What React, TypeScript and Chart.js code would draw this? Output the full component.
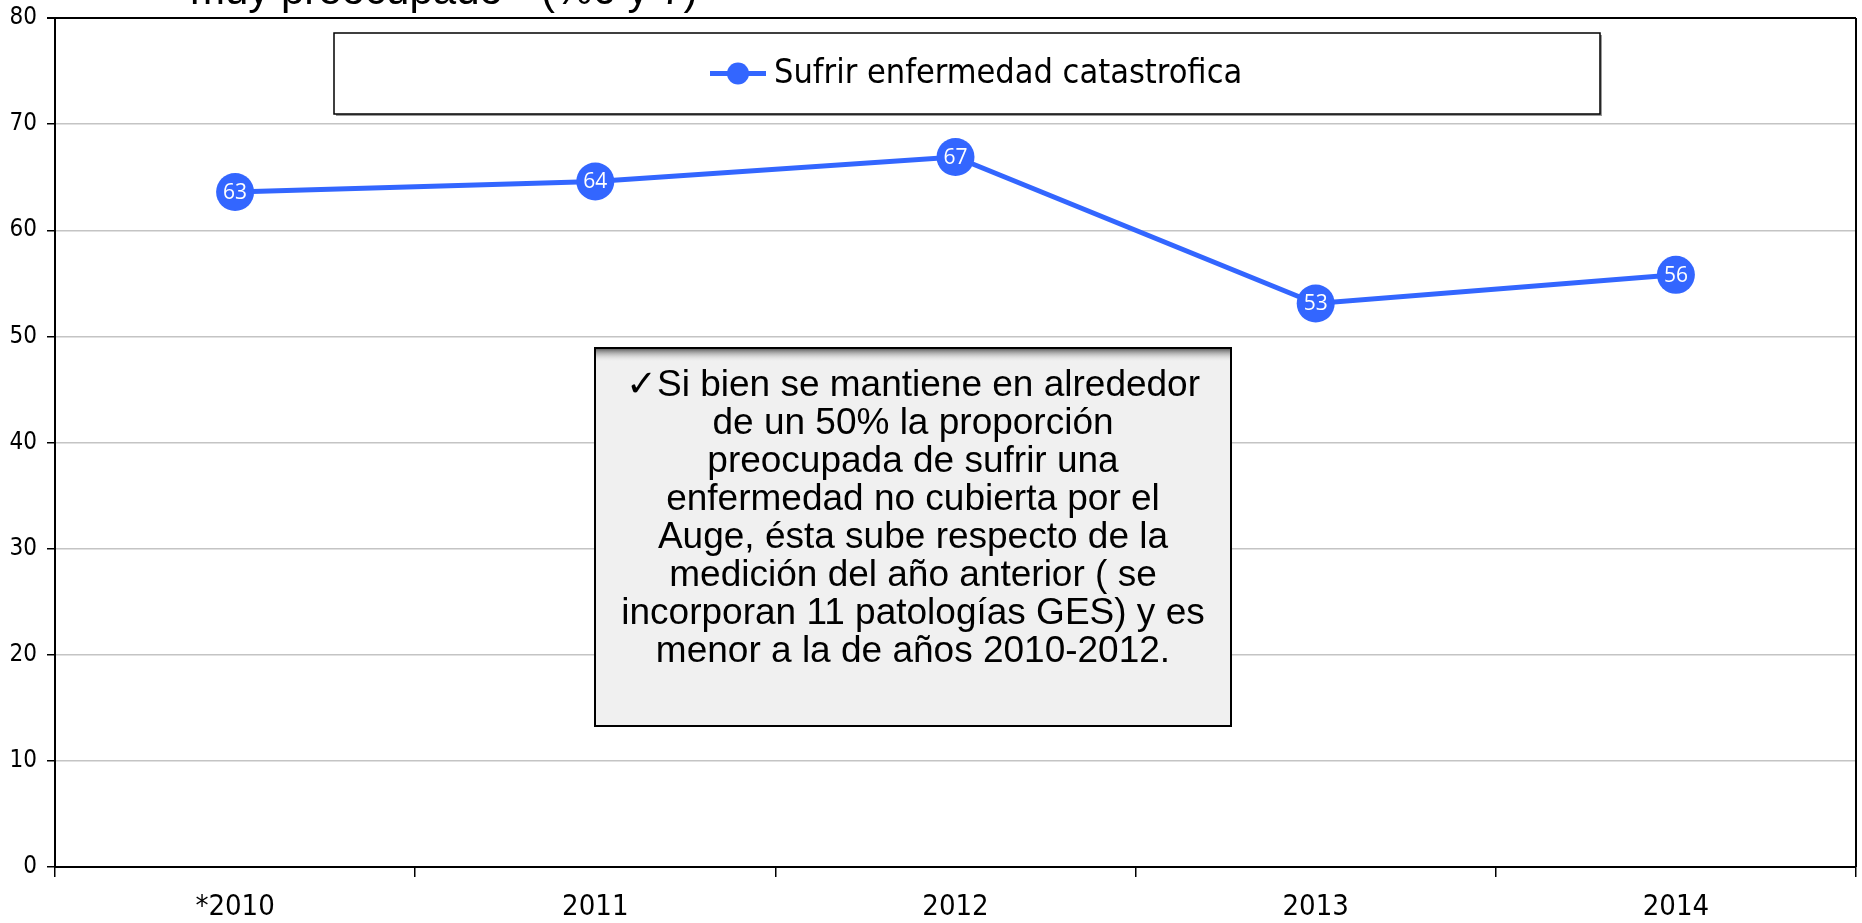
import React, { useEffect, useRef } from "react";
import { Chart, registerables } from "chart.js";

Chart.register(...registerables);

// ---- data ----
const categories = ["*2010", "2011", "2012", "2013", "2014"];
const seriesLabel = "Sufrir enfermedad catastrofica";
const seriesValues = [63.6, 64.6, 66.9, 53.1, 55.8];
const valueLabels = ["63", "64", "67", "53", "56"];
const yMin = 0;
const yMax = 80;
const yStep = 10;
const titleText = 'muy preocupado"  (%6 y 7)';
const noteLines = [
  "\u2713Si bien se mantiene en alrededor",
  "de un 50% la proporción",
  "preocupada de sufrir una",
  "enfermedad no cubierta por el",
  "Auge, ésta sube respecto de la",
  "medición del año anterior ( se",
  "incorporan 11 patologías GES) y es",
  "menor a la de años 2010-2012.",
];

const BLUE = "#3366ff";
const AXIS_FONT = "'DejaVu Sans Condensed', 'DejaVu Sans', sans-serif";
const ARIAL = "'Liberation Sans', Arial, sans-serif";

const decorPlugin = {
  id: "decor",
  beforeDraw(chart: any) {
    const { ctx, width, height } = chart;
    ctx.save();
    ctx.fillStyle = "#ffffff";
    ctx.fillRect(0, 0, width, height);
    ctx.restore();
  },
  afterDatasetsDraw(chart: any) {
    const { ctx } = chart;
    const meta = chart.getDatasetMeta(0);
    ctx.save();
    ctx.fillStyle = "#ffffff";
    ctx.font = "21px 'Open Sans', 'Noto Sans', sans-serif";
    ctx.textAlign = "center";
    ctx.textBaseline = "middle";
    meta.data.forEach((pt: any, i: number) => {
      ctx.fillText(valueLabels[i], pt.x, pt.y + 1);
    });
    ctx.restore();
  },
  afterDraw(chart: any) {
    const { ctx, chartArea: a } = chart;
    ctx.save();
    // right border of plot
    ctx.strokeStyle = "#000";
    ctx.lineWidth = 2;
    ctx.beginPath();
    ctx.moveTo(a.right, a.top);
    ctx.lineTo(a.right, a.bottom);
    ctx.stroke();

    // clipped title
    ctx.fillStyle = "#000";
    ctx.font = `42px ${ARIAL}`;
    ctx.textAlign = "left";
    ctx.textBaseline = "alphabetic";
    ctx.fillText(titleText, 190, 4);

    // legend box
    const lx = 334, ly = 33, lw = 1266, lh = 81;
    ctx.fillStyle = "#9a9a9a";
    ctx.fillRect(lx + 2, ly + 2, lw, lh);
    ctx.fillStyle = "#fff";
    ctx.fillRect(lx, ly, lw, lh);
    ctx.strokeStyle = "#000";
    ctx.lineWidth = 1.5;
    ctx.strokeRect(lx, ly, lw, lh);
    const ds = chart.data.datasets[0];
    const cy = ly + lh / 2;
    ctx.strokeStyle = ds.borderColor;
    ctx.lineWidth = 5;
    ctx.beginPath();
    ctx.moveTo(710, cy);
    ctx.lineTo(766, cy);
    ctx.stroke();
    ctx.fillStyle = ds.borderColor;
    ctx.beginPath();
    ctx.arc(738, cy, 11, 0, Math.PI * 2);
    ctx.fill();
    ctx.fillStyle = "#000";
    ctx.font = `34px ${AXIS_FONT}`;
    ctx.textBaseline = "middle";
    ctx.fillText(ds.label, 774, cy + 1);

    // note box
    const nx = 595, ny = 348, nw = 636, nh = 378;
    ctx.fillStyle = "#f0f0f0";
    ctx.fillRect(nx, ny, nw, nh);
    const g = ctx.createLinearGradient(0, ny, 0, ny + 14);
    g.addColorStop(0, "rgba(70,70,70,0.95)");
    g.addColorStop(1, "rgba(240,240,240,0)");
    ctx.fillStyle = g;
    ctx.fillRect(nx, ny, nw, 14);
    ctx.strokeStyle = "#000";
    ctx.lineWidth = 2;
    ctx.strokeRect(nx, ny, nw, nh);
    ctx.fillStyle = "#000";
    ctx.font = `37px ${ARIAL}`;
    ctx.textAlign = "center";
    ctx.textBaseline = "middle";
    noteLines.forEach((line, i) => {
      ctx.fillText(line, nx + nw / 2, 386 + i * 38);
    });
    ctx.restore();
  },
};

export default function App() {
  const ref = useRef<HTMLCanvasElement | null>(null);

  useEffect(() => {
    document.body.style.margin = "0";
    const canvas = ref.current!;
    const chart = new Chart(canvas, {
      type: "line",
      data: {
        labels: categories,
        datasets: [
          {
            label: seriesLabel,
            data: seriesValues,
            borderColor: BLUE,
            backgroundColor: BLUE,
            borderWidth: 5,
            pointRadius: 19,
            pointHoverRadius: 19,
            pointBackgroundColor: BLUE,
            pointBorderColor: BLUE,
            pointBorderWidth: 0,
            tension: 0,
          },
        ],
      },
      options: {
        animation: false,
        responsive: false,
        maintainAspectRatio: false,
        layout: { autoPadding: false, padding: { top: 18, right: 6, left: 0, bottom: 0 } },
        plugins: {
          legend: { display: false },
          tooltip: { enabled: false },
          title: { display: false },
        },
        scales: {
          x: {
            offset: true,
            afterFit: (s: any) => {
              s.height = 56;
              s.paddingLeft = 0;
              s.paddingRight = 0;
            },
            grid: {
              offset: true,
              drawOnChartArea: false,
              drawTicks: true,
              tickLength: 10,
              color: "#000",
              lineWidth: 1.5,
            },
            border: { display: true, color: "#000", width: 2 },
            ticks: {
              color: "#000",
              font: { family: AXIS_FONT, size: 29 },
              padding: 13,
              maxRotation: 0,
            },
          },
          y: {
            min: yMin,
            max: yMax,
            afterFit: (s: any) => {
              s.width = 55;
              s.paddingTop = 0;
              s.paddingBottom = 0;
            },
            ticks: {
              stepSize: yStep,
              color: "#000",
              font: { family: AXIS_FONT, size: 24 },
              padding: 10,
            },
            grid: {
              color: (c: any) => (c.tick && c.tick.value === yMax ? "#000" : "#c4c4c4"),
              lineWidth: (c: any) => (c.tick && c.tick.value === yMax ? 2 : 1.5),
              tickColor: "#000",
              tickLength: 8,
              drawTicks: true,
            },
            border: { display: true, color: "#000", width: 2 },
          },
        },
      },
      plugins: [decorPlugin],
    });
    return () => chart.destroy();
  }, []);

  return (
    <div style={{ width: 1862, height: 923 }}>
      <canvas ref={ref} width={1862} height={923} style={{ display: "block" }} />
    </div>
  );
}
